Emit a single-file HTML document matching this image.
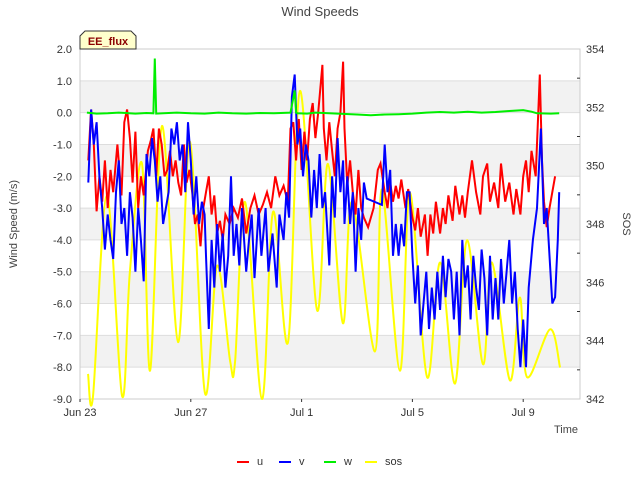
<!DOCTYPE html>
<html><head><meta charset="utf-8"><style>
body{margin:0;background:#fff;}
svg{font-family:"Liberation Sans","DejaVu Sans",sans-serif;}
</style></head><body>
<svg id="c" width="640" height="480" xmlns="http://www.w3.org/2000/svg">
<text x="320" y="16" text-anchor="middle" font-size="13" fill="#444">Wind Speeds</text>
<g id="bands"></g>
<g id="grid"></g>
<rect x="80" y="49" width="500" height="350" fill="none" stroke="#ccc"/>
<g id="series"></g>
<g id="axes"></g>
<g>
<path d="M80,49 L80,36 L85,31 L131,31 L136,36 L136,49 Z" fill="#ffffcc" stroke="#333"/>
<text x="108" y="45" text-anchor="middle" font-size="11" font-weight="bold" fill="#8b0000">EE_flux</text>
</g>
<text transform="translate(17,224) rotate(-90)" text-anchor="middle" font-size="11" fill="#444">Wind Speed (m/s)</text>
<text transform="translate(623,224) rotate(90)" text-anchor="middle" font-size="11" fill="#444">SOS</text>
<text x="566" y="433" text-anchor="middle" font-size="11" fill="#444">Time</text>
<g id="legend"></g>
</svg>
<script>
const xTickLabels=["Jun 23","Jun 27","Jul 1","Jul 5","Jul 9"];
const xTickDays=[0,4,8,12,16];
const yTicks=[2,1,0,-1,-2,-3,-4,-5,-6,-7,-8,-9];
const y2Ticks=[342,344,346,348,350,352,354];
const uDays=[0.3,0.4,0.5,0.6,0.7,0.8,0.9,1.0,1.1,1.2,1.35,1.5,1.6,1.7,1.8,1.9,2.0,2.1,2.2,2.3,2.45,2.55,2.65,2.75,2.85,2.95,3.05,3.15,3.25,3.35,3.45,3.55,3.65,3.75,3.85,3.95,4.05,4.15,4.25,4.35,4.45,4.55,4.65,4.75,4.85,4.95,5.05,5.15,5.25,5.4,5.55,5.7,5.85,6.0,6.15,6.3,6.45,6.6,6.75,6.9,7.05,7.2,7.35,7.5,7.6,7.7,7.8,7.9,8.0,8.1,8.2,8.3,8.4,8.5,8.6,8.7,8.75,8.8,8.9,9.0,9.1,9.2,9.3,9.4,9.5,9.55,9.65,9.75,9.85,9.95,10.05,10.15,10.25,10.4,10.6,10.75,10.85,11.0,11.1,11.2,11.3,11.4,11.5,11.6,11.75,11.85,12.0,12.1,12.2,12.3,12.45,12.55,12.65,12.75,12.85,13.0,13.1,13.2,13.3,13.45,13.55,13.7,13.8,13.9,14.0,14.15,14.3,14.45,14.55,14.7,14.8,14.95,15.1,15.2,15.35,15.5,15.65,15.75,15.9,16.0,16.1,16.2,16.3,16.45,16.6,16.68,16.75,16.85,16.95,17.05,17.15,17.3];
const uVals=[-1.5,0.1,-1.0,-3.1,-2.0,-2.8,-1.5,-3.0,-1.8,-2.5,-1.0,-2.6,-0.3,0.1,-0.8,-2.2,-0.6,-3.0,-2.0,-2.6,-1.2,-0.9,-0.5,-2.0,-0.5,-1.0,-2.0,-1.8,-1.2,-2.0,-1.5,-2.2,-2.6,-1.0,-2.2,-1.8,-2.5,-3.5,-3.2,-4.2,-3.0,-2.5,-2.0,-3.2,-2.6,-3.8,-3.4,-4.0,-3.2,-3.5,-3.0,-3.3,-2.7,-3.8,-3.0,-2.6,-3.2,-2.9,-2.5,-3.0,-2.0,-2.6,-2.3,-2.8,-0.5,-0.3,-1.5,-0.2,-1.8,-0.6,-1.5,-0.2,0.3,-0.8,0.0,1.0,1.5,-0.5,-1.5,-0.3,-1.2,-2.0,-0.5,0.0,1.6,-0.5,-2.3,-1.5,-2.5,-3.2,-1.8,-3.0,-3.3,-3.6,-3.0,-1.8,-1.6,-2.5,-3.0,-2.2,-2.8,-2.3,-2.7,-2.1,-3.0,-2.4,-3.3,-3.7,-3.0,-3.9,-3.2,-4.5,-3.2,-3.8,-2.8,-3.8,-3.0,-3.5,-2.6,-3.4,-2.3,-3.2,-2.6,-3.3,-2.5,-1.5,-2.5,-3.2,-2.0,-1.6,-2.8,-2.2,-3.0,-1.6,-2.8,-2.2,-3.2,-2.4,-3.2,-2.0,-1.5,-2.5,-1.2,-2.0,1.2,-1.5,-2.8,-3.6,-3.0,-2.5,-2.0];
const vDays=[0.3,0.4,0.5,0.6,0.7,0.8,0.9,1.0,1.1,1.2,1.3,1.4,1.5,1.6,1.7,1.8,1.9,2.0,2.1,2.2,2.3,2.4,2.5,2.6,2.7,2.8,2.9,3.0,3.1,3.2,3.3,3.4,3.5,3.6,3.7,3.8,3.9,4.0,4.1,4.2,4.3,4.4,4.5,4.55,4.65,4.75,4.85,4.95,5.05,5.15,5.25,5.35,5.45,5.55,5.65,5.75,5.85,6.0,6.1,6.2,6.3,6.45,6.55,6.7,6.8,6.95,7.1,7.2,7.35,7.45,7.55,7.65,7.75,7.85,7.95,8.05,8.15,8.25,8.35,8.45,8.55,8.65,8.75,8.85,9.0,9.1,9.2,9.3,9.4,9.5,9.55,9.65,9.75,9.85,9.95,10.05,10.15,10.25,10.35,10.9,11.0,11.1,11.2,11.3,11.4,11.5,11.6,11.7,11.8,11.9,12.0,12.1,12.2,12.3,12.4,12.5,12.6,12.7,12.8,12.9,13.0,13.1,13.2,13.3,13.4,13.5,13.6,13.7,13.8,13.9,14.0,14.1,14.2,14.3,14.4,14.5,14.6,14.7,14.8,14.9,15.0,15.1,15.2,15.3,15.4,15.5,15.6,15.7,15.8,15.9,16.0,16.1,16.2,16.35,16.5,16.64,16.75,16.85,16.95,17.05,17.15,17.25,17.3];
const vVals=[-2.2,0.1,-1.0,-0.3,-2.0,-3.0,-4.3,-3.2,-4.0,-4.6,-2.5,-1.5,-3.5,-3.0,-4.5,-2.5,-3.3,-5.0,-3.0,-4.0,-5.3,-1.3,-2.0,-0.8,-1.5,-2.8,-2.0,-3.5,-3.0,-2.5,-0.5,-1.0,-0.3,-1.5,-1.0,-2.5,-0.3,-1.5,-3.2,-2.0,-3.5,-2.8,-3.2,-4.5,-6.8,-4.0,-5.5,-3.5,-5.0,-3.8,-5.5,-4.5,-2.0,-4.5,-3.5,-4.8,-3.0,-5.0,-4.0,-3.2,-5.2,-3.0,-4.5,-3.0,-5.0,-3.8,-5.5,-3.2,-4.0,-2.5,-3.3,0.5,1.2,-1.0,-0.5,-2.0,-1.0,-1.5,-3.3,-1.8,-3.0,-1.3,-3.0,-2.5,-4.8,-2.0,-3.3,-0.8,-2.5,-1.5,-3.5,-2.0,-3.5,-2.5,-5.0,-3.0,-4.0,-2.2,-2.7,-2.9,-1.0,-2.5,-1.8,-4.5,-3.5,-4.5,-3.5,-4.2,-2.5,-2.5,-4.5,-6.0,-4.8,-7.0,-6.0,-5.0,-6.8,-5.5,-6.5,-5.0,-6.2,-4.5,-5.8,-4.6,-5.0,-6.5,-5.0,-7.0,-4.0,-5.5,-4.8,-6.5,-4.5,-5.5,-6.2,-4.3,-5.2,-7.0,-4.5,-6.5,-5.2,-6.5,-4.6,-6.0,-5.0,-4.0,-6.0,-5.0,-6.8,-8.0,-6.5,-8.0,-5.5,-4.0,-3.0,-0.5,-3.5,-3.0,-4.5,-6.0,-5.8,-4.0,-2.5];
const wDays=[0.25,0.6,1,1.4,2,2.4,2.65,2.7,2.75,3.2,3.5,4,4.5,5,5.5,6,6.5,7,7.6,7.75,7.8,7.85,8.2,8.5,9,9.5,10,10.5,11,11.5,12,12.5,13,13.5,14,14.5,15,15.5,16,16.3,16.5,17,17.3];
const wVals=[0.0,-0.03,-0.02,0.0,-0.03,-0.01,-0.02,1.7,-0.03,-0.01,0.0,-0.02,-0.03,0.0,-0.02,-0.03,-0.01,-0.02,0.0,0.7,0.0,-0.02,-0.03,0.0,-0.02,-0.04,-0.06,-0.08,-0.06,-0.05,-0.03,0.0,0.02,0.0,0.03,0.0,0.02,0.05,0.08,0.03,-0.02,-0.03,-0.02];
const sosDays=[0.29,0.47,0.97,1.52,1.8,2.24,2.53,2.96,3.54,3.97,4.51,4.95,5.42,5.6,5.96,6.57,6.97,7.51,7.94,8.56,8.95,9.49,9.82,10.65,10.9,11.55,11.91,12.53,13.0,13.54,13.97,14.55,14.87,15.52,15.88,16.14,16.97,17.33];
const sosVals=[342.86,342.1,348.97,342.1,346.35,350.06,342.97,351.36,343.95,350.82,342.21,346.57,343.3,343.3,348.75,342.0,348.42,343.95,352.56,345.04,350.06,344.6,348.75,343.63,349.18,342.97,349.08,342.75,346.68,342.53,347.44,343.19,346.68,342.64,345.48,342.75,344.39,343.08];

const NS="http://www.w3.org/2000/svg";
const X0=80,X1=580,Y0=49,Y1=399;
const xS=d=>X0+d*27.7;
const yS=v=>Y1-(v+9)/11*(Y1-Y0);
const y2S=s=>Y1-(s-342)/12*(Y1-Y0);
function mk(tag,attrs,parent){const e=document.createElementNS(NS,tag);for(const k in attrs)e.setAttribute(k,attrs[k]);parent.appendChild(e);return e;}
const bands=document.getElementById('bands'),grid=document.getElementById('grid'),axes=document.getElementById('axes'),series=document.getElementById('series'),legend=document.getElementById('legend');
for(let v=1;v>-9;v-=2){const r=mk('rect',{x:X0,y:yS(v),width:X1-X0,height:yS(v-1)-yS(v),fill:'#f2f2f2'},bands);

}
yTicks.forEach(v=>{const l=mk('line',{x1:X0,x2:X1,y1:yS(v),y2:yS(v),stroke:'#ddd'},grid);


const t=mk('text',{x:72,y:yS(v)+4,'text-anchor':'end','font-size':11,fill:'#333'},axes);t.textContent=v.toFixed(1);

});
y2Ticks.forEach(s=>{const t=mk('text',{x:586,y:y2S(s)+4,'font-size':11,fill:'#333'},axes);t.textContent=s;


if(s<354){const m=mk('line',{x1:577,x2:580,y1:y2S(s+1),y2:y2S(s+1),stroke:'#333'},axes);

}});
xTickDays.forEach((d,i)=>{const t=mk('text',{x:xS(d),y:416,'text-anchor':'middle','font-size':11,fill:'#333'},axes);t.textContent=xTickLabels[i];


const m=mk('line',{x1:xS(d),x2:xS(d),y1:Y1,y2:Y1+3,stroke:'#333'},axes);

});
function linePath(ds,vs,ys){return ds.map((d,i)=>(i?'L':'M')+xS(d).toFixed(1)+','+ys(vs[i]).toFixed(1)).join('');}
function smoothPath(ds,vs,ys){const p=ds.map((d,i)=>[xS(d),ys(vs[i])]);let s='M'+p[0][0]+','+p[0][1];
for(let i=0;i<p.length-1;i++){const a=p[i-1]||p[i],b=p[i],c=p[i+1],e=p[i+2]||c;
s+='C'+(b[0]+(c[0]-a[0])/6)+','+(b[1]+(c[1]-a[1])/6)+' '+(c[0]-(e[0]-b[0])/6)+','+(c[1]-(e[1]-b[1])/6)+' '+c[0]+','+c[1];}return s;}
const sosP=mk('path',{d:smoothPath(sosDays,sosVals,y2S),fill:'none',stroke:'#ffff00','stroke-width':2},series);


const uP=mk('path',{d:linePath(uDays,uVals,yS),fill:'none',stroke:'#ff0000','stroke-width':2},series);


const vP=mk('path',{d:linePath(vDays,vVals,yS),fill:'none',stroke:'#0000ff','stroke-width':2},series);


const wP=mk('path',{d:linePath(wDays,wVals,yS),fill:'none',stroke:'#00ee00','stroke-width':2},series);


const leg=[['u','#ff0000',237],['v','#0000ff',279],['w','#00ee00',324],['sos','#ffff00',365]];
leg.forEach(([n,c,x])=>{const g=mk('g',{},legend);


mk('line',{x1:x,x2:x+12,y1:462,y2:462,stroke:c,'stroke-width':2},g);
const t=mk('text',{x:x+20,y:465,'font-size':11,fill:'#333'},g);t.textContent=n;});
</script>
</body></html>
